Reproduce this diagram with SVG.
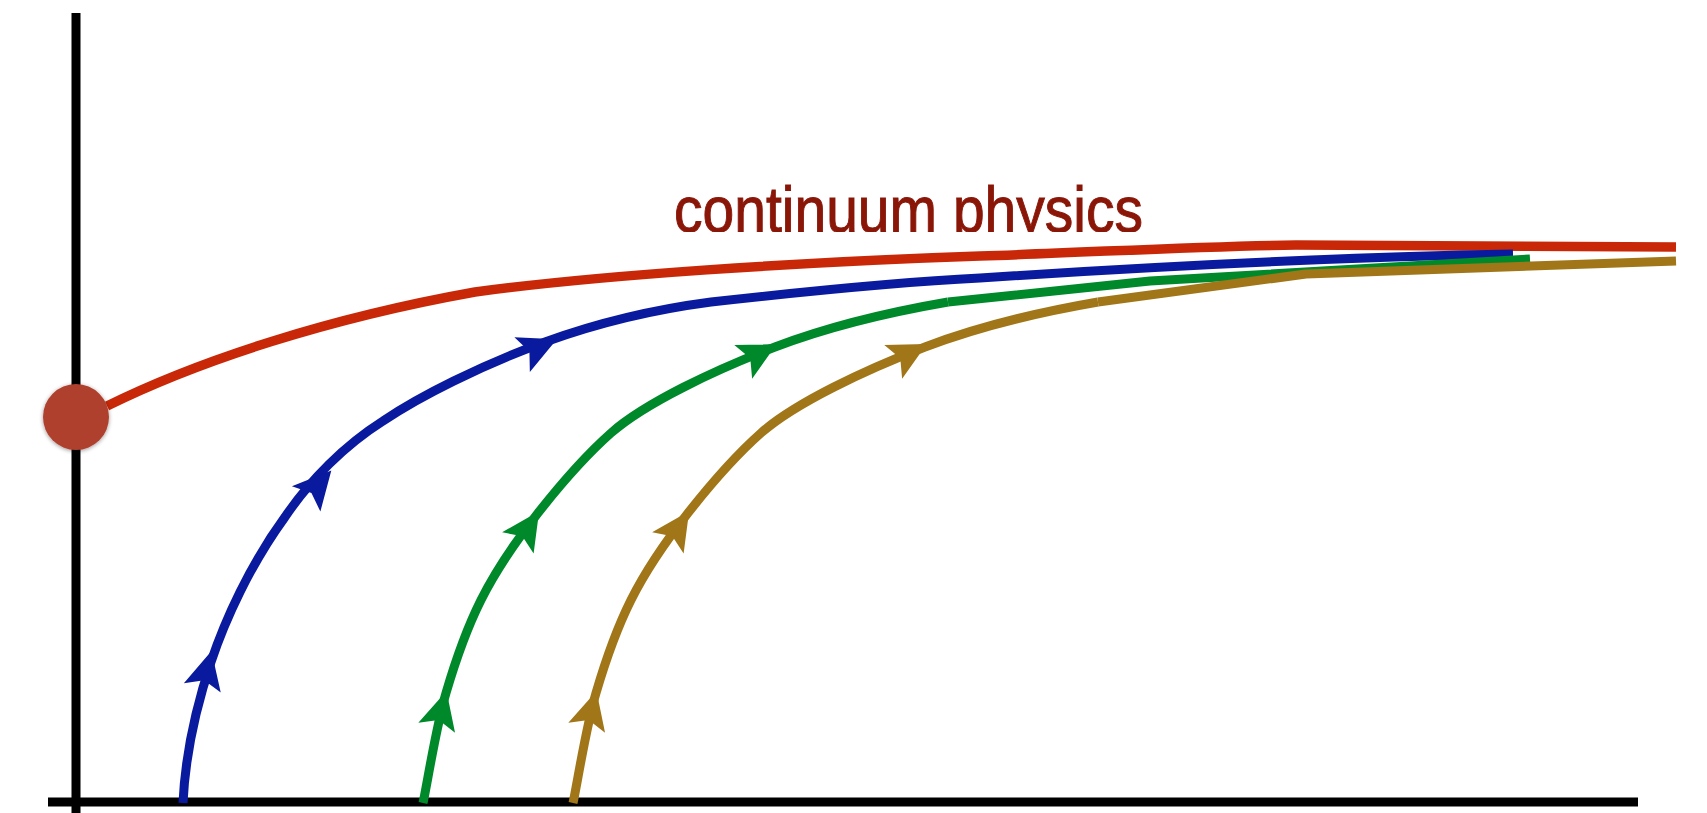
<svg xmlns="http://www.w3.org/2000/svg" width="1707" height="813" viewBox="0 0 1707 813">
<style>
.axis{stroke:#000;stroke-width:9;fill:none}
.flow{fill:none;stroke-width:9;stroke-linejoin:round;stroke-linecap:butt}
.red{stroke:#C92808;stroke-width:9.5}
.blue{stroke:#0A1A9E}
.green{stroke:#00892A}
.gold{stroke:#A07618}
.label{font-family:"Liberation Sans",Arial,sans-serif;font-size:64px;fill:#8A1608;stroke:#8A1608;stroke-width:1}
</style>
<defs>
<path id="ah" d="M2,0 L-36,-19 L-28,0 L-36,19 Z"/>
<path id="arc" d="M423,803 C427,785 436,727 446,693 C456,659 466,630 481,600 C496,570 516,541 538,513 C560,485 585,456 611,433 C645,403 715,370 775,347 C830,326 890,312 948,302"/>
<clipPath id="txtclip"><rect x="600" y="140" width="600" height="92"/></clipPath>
<filter id="sh" x="-30%" y="-30%" width="160%" height="160%"><feGaussianBlur in="SourceAlpha" stdDeviation="2"/><feOffset dx="0" dy="1"/><feComponentTransfer><feFuncA type="linear" slope="0.4"/></feComponentTransfer><feMerge><feMergeNode/><feMergeNode in="SourceGraphic"/></feMerge></filter>
</defs>
<rect width="1707" height="813" fill="#fff"/>
<g id="axes">
<line class="axis" x1="76" y1="13" x2="76" y2="813"/>
<line class="axis" x1="48" y1="802" x2="1638" y2="802"/>
</g>
<g id="connectors">
<path class="flow red" d="M107,406 C200,360 330,318 475,292 C600,275 800,262 980,256 C1100,252 1200,246 1296,245 L1676,247"/>
<path class="flow blue" d="M183,803 C185,760 195,710 211,662 C225,620 250,565 285,517 C310,480 345,445 383,421 C420,396 480,366 545,342 C600,322 650,310 711,302 C800,292 900,282 980,278 C1100,270 1300,258 1513,254"/>
<g class="flow green"><use href="#arc"/><path d="M948,302 L1150,281 L1530,259"/></g>
<g class="flow gold"><use href="#arc" transform="translate(150,0)"/><path d="M1098,302 L1306,274 L1676,261"/></g>
</g>
<g id="arrows">
<use href="#ah" fill="#0A1A9E" transform="translate(211,653) rotate(-76)"/>
<use href="#ah" fill="#0A1A9E" transform="translate(330,472) rotate(-48.5)"/>
<use href="#ah" fill="#0A1A9E" transform="translate(555,340) rotate(-24)"/>
<use href="#ah" fill="#00892A" transform="translate(446,693) rotate(-75)"/>
<use href="#ah" fill="#00892A" transform="translate(538,513) rotate(-56)"/>
<use href="#ah" fill="#00892A" transform="translate(775,345) rotate(-28)"/>
<use href="#ah" fill="#A07618" transform="translate(596,693) rotate(-75)"/>
<use href="#ah" fill="#A07618" transform="translate(688,513) rotate(-56)"/>
<use href="#ah" fill="#A07618" transform="translate(925,345) rotate(-28)"/>
</g>
<g id="fixed-point">
<circle cx="76" cy="417" r="33" fill="#B0402E" filter="url(#sh)"/>
</g>
<g id="label">
<text class="label" x="674" y="232" textLength="469" lengthAdjust="spacingAndGlyphs" clip-path="url(#txtclip)">continuum physics</text>
</g>
</svg>
